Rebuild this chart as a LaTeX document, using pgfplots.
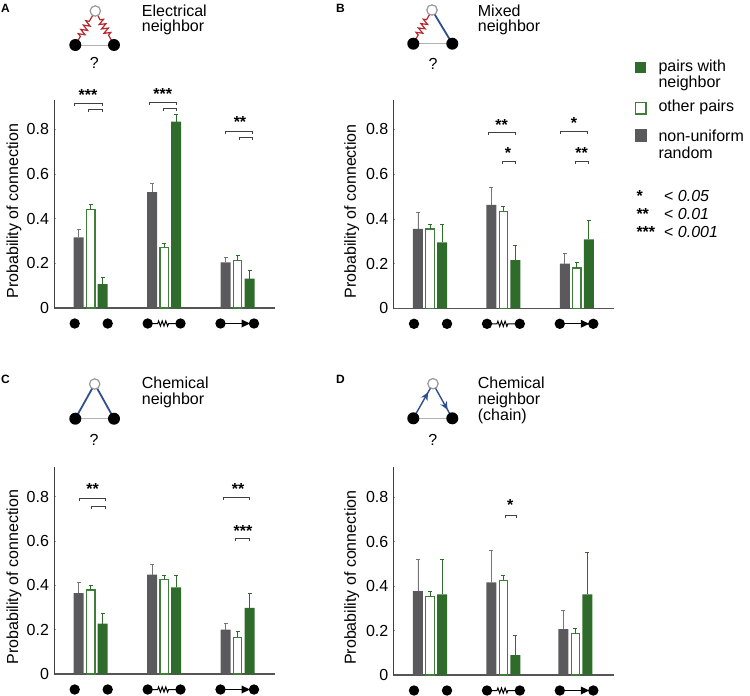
\documentclass[border=0pt]{standalone}
\usepackage{fontspec}
\setmainfont{Liberation Sans}
\usepackage{pgfplots}
\usepackage{pgfplotstable}
\pgfplotsset{compat=1.18}
\usetikzlibrary{decorations.pathmorphing,decorations.markings,arrows.meta}
\definecolor{barGray}{HTML}{5A5A5C}
\definecolor{errGray}{HTML}{757577}
\definecolor{barGreen}{HTML}{2F6B2B}
\definecolor{edgeGreen}{HTML}{3F7F3A}
\definecolor{axisGray}{HTML}{555555}
\definecolor{synRed}{HTML}{B5262E}
\definecolor{synBlue}{HTML}{2F4F8F}

% columns: group, non-uniform random, other pairs, pairs with neighbor (value, error)
\pgfplotstableread{
x   g     ge    w     we    p     pe
0   0.316 0.036 0.439 0.024 0.107 0.030
1   0.518 0.040 0.272 0.019 0.833 0.034
2   0.204 0.024 0.212 0.024 0.131 0.039
}\dataA
\pgfplotstableread{
x   g     ge    w     we    p     pe
0   0.355 0.074 0.355 0.022 0.295 0.078
1   0.463 0.076 0.434 0.022 0.215 0.068
2   0.200 0.044 0.180 0.024 0.308 0.084
}\dataB
\pgfplotstableread{
x   g     ge    w     we    p     pe
0   0.365 0.049 0.379 0.021 0.227 0.045
1   0.448 0.047 0.426 0.021 0.391 0.056
2   0.200 0.029 0.165 0.026 0.298 0.064
}\dataC
\pgfplotstableread{
x    g     ge    w     we    p     pe
0    0.377 0.143 0.353 0.021 0.363 0.158
1    0.417 0.142 0.426 0.023 0.090 0.087
1.98 0.206 0.085 0.186 0.024 0.363 0.188
}\dataD

\pgfplotsset{
  panel/.style={
    scale only axis, width=221pt, anchor=south west,
    xmin=-0.5, xmax=2.51, ymin=0,
    axis x line*=bottom, axis y line*=left,
    x axis line style={-, axisGray, line width=1.1pt},
    y axis line style={-, black!75, line width=0.8pt},
    xtick=\empty,
    ytick={0,0.2,0.4,0.6,0.8},
    yticklabels={0,0.2,0.4,0.6,0.8},
    tick align=inside, major tick length=2pt,
    y tick style={black!40, line width=0.4pt},
    tick label style={font=\fontsize{16}{16}\selectfont},
    yticklabel style={xshift=-1.5pt},
    ylabel={Probability of connection},
    label style={font=\fontsize{16}{16}\selectfont},
    /pgf/number format/assume math mode=true,
    clip=false,
  },
  ebar/.style={
    error bars/.cd, y dir=plus, y explicit,
    error bar style={color=#1, line width=0.8pt},
    error mark options={color=#1, rotate=90, mark size=2pt, line width=0.8pt},
  },
}

% 12 px between bars is 0.1637 of a group step
\newcommand{\panelbars}[1]{
  \addplot[ybar, color=barGray, bar width=10pt, bar shift=0pt, fill=barGray, draw=none, ebar=errGray]
    table[x expr=\thisrow{x}-0.1637, y=g, y error=ge] {#1};
  \addplot[ybar, color=edgeGreen, bar width=8.4pt, bar shift=0pt, fill=white, line width=1.2pt, ebar=barGreen]
    table[x=x, y=w, y error=we] {#1};
  \addplot[ybar, color=barGreen, bar width=10pt, bar shift=0pt, fill=barGreen, draw=none, ebar=barGreen]
    table[x expr=\thisrow{x}+0.1637, y=p, y error=pe] {#1};
}

% bracket: x1, x2, y ; stars: x, y, text
\newcommand{\brk}[3]{\draw[black!75, line width=0.6pt] (#1,#3+2.5) -- (#1,#3) -- (#2,#3) -- (#2,#3+2.5);}
\newcommand{\stars}[3]{\node[inner sep=0pt, font=\fontsize{16}{16}\selectfont\bfseries] at (#1,#2) {#3};}

% icons under the x axis, relative to the axis corner
\newcommand{\bottomicons}[2]{
  \begin{scope}[shift={(#1,#2+15.5)}]
    \fill (20.7,0) circle (5.2) (53.7,0) circle (5.2);
    \fill (93.7,0) circle (5.2) (126.5,0) circle (5.2);
    \draw[line width=1pt, decorate, decoration={zigzag, segment length=3.6, amplitude=2.6, pre length=10, post length=11}] (93.7,0) -- (126.5,0);
    \fill (166.5,0) circle (5.2) (200,0) circle (5.2);
    \draw[line width=1pt] (166.5,0) -- (190,0);
    \fill (187.5,-4) -- (196,0) -- (187.5,4) -- cycle;
  \end{scope}
}
\tikzset{
  res/.style={synRed, line width=1.2pt, decorate, decoration={zigzag, segment length=5, amplitude=3.2, pre length=10, post length=11}},
  chem/.style={synBlue, line width=1.8pt},
  chain/.style={synBlue, line width=1.4pt, postaction={decorate}, decoration={markings, mark=at position 0.75 with {\arrow{Stealth[length=8pt,width=7.5pt]}}}},
}
% triangle icon: top x,y; left x; right x; bottom y; edge styles
\newcommand{\triangleicon}[7]{
  \draw[gray!60, line width=0.7pt] (#3,#5) -- (#4,#5);
  \draw[#6] (#3,#5) -- (#1,#2);
  \draw[#7] (#1,#2) -- (#4,#5);
  \filldraw[fill=white, draw=gray!80, line width=1.2pt] (#1,#2) circle (5.2);
  \fill (#3,#5) circle (6) (#4,#5) circle (6);
}
\tikzset{txt/.style={anchor=west, inner sep=0pt, font=\fontsize{16}{16}\selectfont}}

\begin{document}
\begin{tikzpicture}[x=1pt, y=-1pt]
\path[use as bounding box] (0,0) rectangle (750,696);

\begin{axis}[panel, at={(54pt,-308pt)}, height=208pt, ymax=0.93,
  ylabel style={at={(axis description cs:-0.181,0.466)}, anchor=center}]
  \panelbars{\dataA}
\end{axis}
\begin{axis}[panel, at={(393.3pt,-308.3pt)}, height=208pt, ymax=0.93,
  ylabel style={at={(axis description cs:-0.188,0.466)}, anchor=center}]
  \panelbars{\dataB}
\end{axis}
\begin{axis}[panel, at={(54pt,-674pt)}, height=207pt, ymax=0.934,
  ylabel style={at={(axis description cs:-0.181,0.468)}, anchor=center}]
  \panelbars{\dataC}
\end{axis}
\begin{axis}[panel, at={(393.3pt,-675pt)}, height=208pt, ymax=0.936,
  ylabel style={at={(axis description cs:-0.188,0.468)}, anchor=center}]
  \panelbars{\dataD}
\end{axis}

\bottomicons{54}{308}
\bottomicons{393.3}{308.3}
\bottomicons{54}{674}
\bottomicons{393.3}{675}

% panel A brackets
\brk{74}{102.7}{103.3} \brk{88.3}{102.7}{109} \stars{88}{95}{***}
\brk{149}{176.3}{102} \brk{163}{176.3}{108} \stars{162.7}{94}{***}
\brk{225.7}{252.7}{131.3} \brk{239}{252.7}{137.7} \stars{240}{122}{**}
% panel B brackets
\brk{488}{515.7}{132.7} \stars{501.7}{124.7}{**}
\brk{502}{515.7}{161.3} \stars{508}{152.7}{*}
\brk{560.3}{587.7}{131} \stars{574}{122.7}{*}
\brk{575}{588.3}{161.3} \stars{581.7}{152.7}{**}
% panel C brackets
\brk{79.7}{105.7}{498} \brk{91.7}{105.7}{506} \stars{92.7}{489.3}{**}
\brk{223.3}{249.3}{497} \stars{238}{489}{**}
\brk{235.7}{249.3}{538.7} \stars{243}{530.7}{***}
% panel D brackets
\brk{505.7}{516.7}{515.3} \stars{510.3}{505.3}{*}

% neighbor motifs
\triangleicon{95.3}{11}{75.3}{114}{45}{res}{res}
\triangleicon{432}{10}{413.3}{452.3}{43.7}{res}{chem}
\triangleicon{94.7}{384}{75.3}{114}{418.7}{chem}{chem}
\triangleicon{433}{383.7}{413.3}{452.3}{418.3}{chain}{chain}
\node[inner sep=0pt, font=\fontsize{16}{16}\selectfont] at (94.3,63.3) {?};
\node[inner sep=0pt, font=\fontsize{16}{16}\selectfont] at (433,64) {?};
\node[inner sep=0pt, font=\fontsize{16}{16}\selectfont] at (94,439.7) {?};
\node[inner sep=0pt, font=\fontsize{16}{16}\selectfont] at (432.7,439.7) {?};

% panel titles
\node[txt] at (141.7,11) {Electrical};
\node[txt] at (141.7,27.5) {neighbor};
\node[txt] at (477.7,11) {Mixed};
\node[txt] at (477.7,27.5) {neighbor};
\node[txt] at (141.7,383) {Chemical};
\node[txt] at (141.7,400) {neighbor};
\node[txt] at (477.7,383) {Chemical};
\node[txt] at (477.7,400) {neighbor};
\node[txt] at (477.7,416.5) {(chain)};

% panel letters
\node[txt, font=\fontsize{12}{12}\selectfont\bfseries] at (1,8) {A};
\node[txt, font=\fontsize{12}{12}\selectfont\bfseries] at (336,8) {B};
\node[txt, font=\fontsize{12}{12}\selectfont\bfseries] at (1,379) {C};
\node[txt, font=\fontsize{12}{12}\selectfont\bfseries] at (336,379) {D};

% legend
\fill[barGreen] (635,62.3) rectangle (646.3,73.3);
\filldraw[fill=white, draw=edgeGreen, line width=1.2pt] (635.5,102.8) rectangle (646,114);
\fill[barGray] (634.5,129.3) rectangle (647,142.3);
\node[txt] at (658.3,67.7) {pairs with};
\node[txt] at (658.3,83.3) {neighbor};
\node[txt] at (658.3,107.7) {other pairs};
\node[txt] at (658.3,136) {non-uniform};
\node[txt] at (658.3,152.7) {random};
\node[txt, font=\fontsize{16}{16}\selectfont\bfseries] at (636.3,195.7) {*};
\node[txt, font=\fontsize{16}{16}\selectfont\bfseries] at (636.3,214) {**};
\node[txt, font=\fontsize{16}{16}\selectfont\bfseries] at (636.3,232.3) {***};
\node[txt] at (664,195.7) {< \textit{0.05}};
\node[txt] at (664,214) {< \textit{0.01}};
\node[txt] at (664,232.3) {< \textit{0.001}};
\end{tikzpicture}
\end{document}
